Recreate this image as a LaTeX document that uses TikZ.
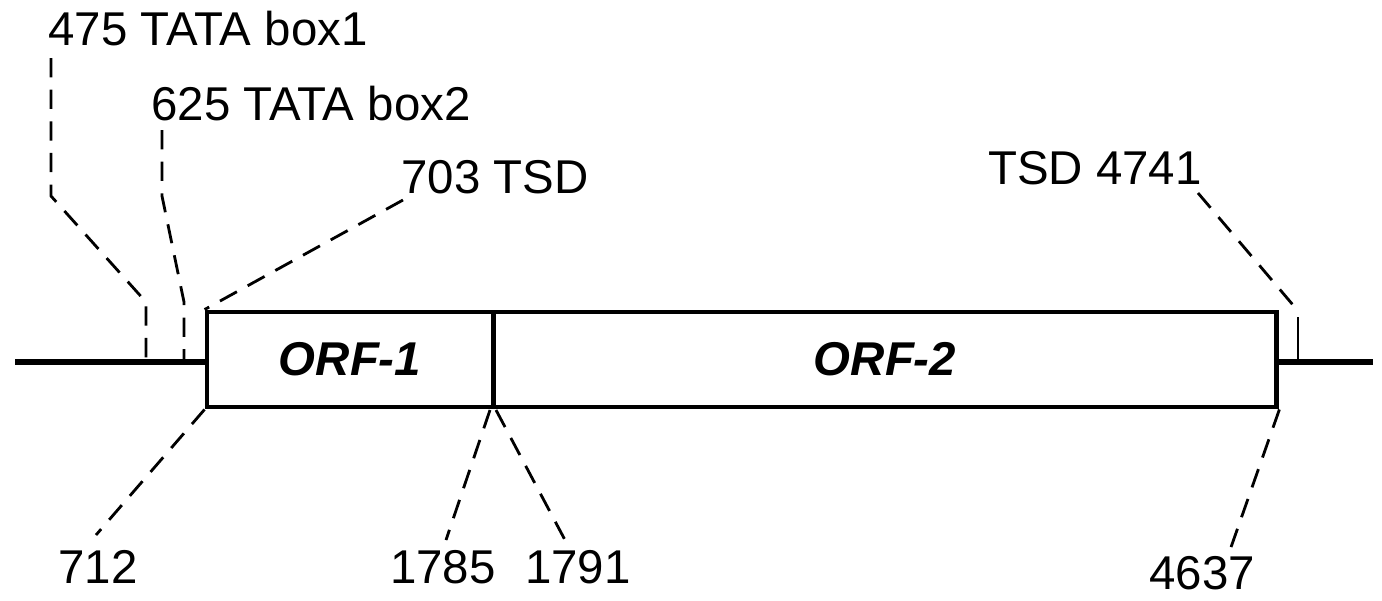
\documentclass[tikz,border=0pt]{standalone}
\usepackage{fontspec}
\setmainfont{Liberation Sans}

\tikzset{
  lbl/.style={font=\fontsize{27}{30}\selectfont, inner sep=0pt},
  orfbox/.style={draw, line width=2.8pt, minimum height=1.9cm, inner sep=0pt,
    font=\fontsize{27}{30}\selectfont\bfseries\itshape},
  backbone/.style={line width=3.4pt},
  lead/.style={line width=1.6pt, dash pattern=on 11pt off 7pt},
}

\begin{document}
\begin{tikzpicture}[x=0.02cm, y=-0.02cm]
\useasboundingbox (0,0) rectangle (1382,600);

% Backbone
\draw[backbone] (15,362) -- (207,362);
\draw[backbone] (1277,362) -- (1373,362);

% ORFs
\node[orfbox, minimum width=5.72cm] (orf1) at (350,359.5) {ORF-1};
\node[orfbox, minimum width=15.68cm] (orf2) at (885,359.5) {ORF-2};

% Labels above
\node[lbl] (box1) at (208,29) {475 TATA box1};
\node[lbl] (box2) at (311,104) {625 TATA box2};
\node[lbl] (tsd1) at (495,177) {703 TSD};
\node[lbl] (tsd2) at (1095,168) {TSD 4741};

% Labels below
\node[lbl] (p712) at (98,567) {712};
\node[lbl] (p1785) at (443,567) {1785};
\node[lbl] (p1791) at (578,567) {1791};
\node[lbl] (p4637) at (1202,573) {4637};

% Bends and free ends
\coordinate (b1a) at (51,58);
\coordinate (b1b) at (51,196);
\coordinate (b1c) at (146,302);
\coordinate (b1d) at (146,360);
\coordinate (b2a) at (162,130);
\coordinate (b2b) at (162,196);
\coordinate (b2c) at (184,302);
\coordinate (b2d) at (184,360);
\coordinate (t1a) at (403,200);
\coordinate (t2a) at (1198,193);
\coordinate (t2b) at (1293,305);
\coordinate (t2c) at (1298,317);
\coordinate (t2d) at (1298,362);
\coordinate (s712) at (96,535);
\coordinate (s1785) at (446,540);
\coordinate (s1791) at (565,540);
\coordinate (s4637) at (1230,550);
\coordinate (dv1) at (490,410);
\coordinate (dv2) at (496,410);

% Leaders above
\draw[lead] (b1a) -- (b1b) -- (b1c) -- (b1d);
\draw[lead] (b2a) -- (b2b) -- (b2c) -- (b2d);
\draw[lead] (t1a) -- (orf1.north west);
\draw[lead] (t2a) -- (t2b);
\draw[line width=1.2pt] (t2c) -- (t2d);

% Leaders below
\draw[lead] (orf1.south west) -- (s712);
\draw[lead] (dv1) -- (s1785);
\draw[lead] (dv2) -- (s1791);
\draw[lead] (orf2.south east) -- (s4637);
\end{tikzpicture}
\end{document}
